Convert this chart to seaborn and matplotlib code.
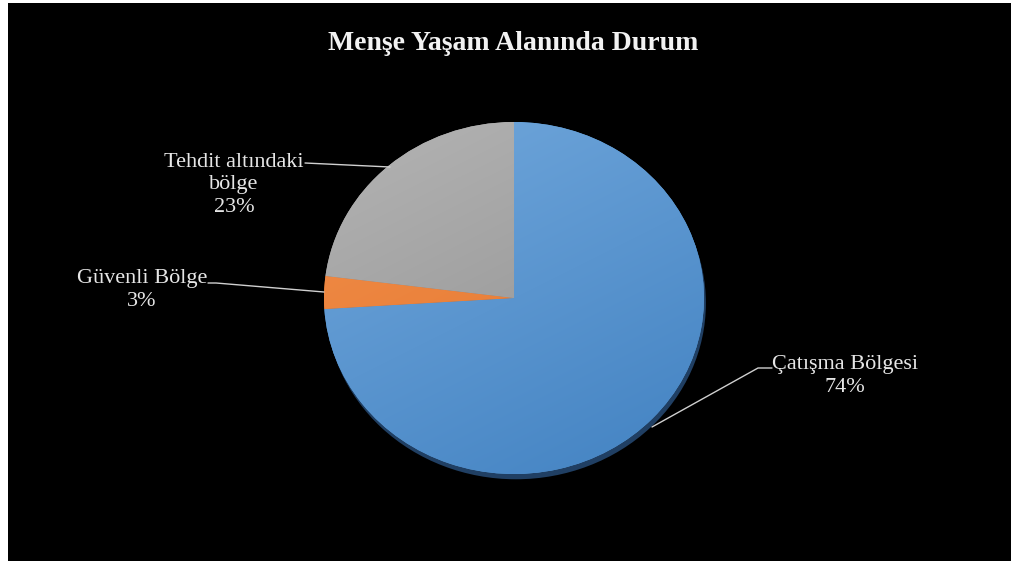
import numpy as np
import matplotlib
matplotlib.use("Agg")
import matplotlib.pyplot as plt
import seaborn as sns
from matplotlib.patches import Rectangle, Ellipse

categories = ["Çatışma Bölgesi", "Güvenli Bölge", "Tehdit altındaki\nbölge"]
values = [74, 3, 23]
pct_labels = ["74%", "3%", "23%"]
title = "Menşe Yaşam Alanında Durum"

sns.set_theme(style="dark")
plt.rcParams['font.family'] = ['Liberation Serif', 'DejaVu Serif']

W, H = 1011, 561
fig = plt.figure(figsize=(W / 100, H / 100), dpi=100, facecolor="white")
# black chart area
fig.patches.append(Rectangle((8 / W, 0), (W - 8) / W, (H - 3) / H,
                             transform=fig.transFigure, facecolor="black",
                             edgecolor="none", zorder=-5))

cx, cy, rx, ry = 514, 298, 190, 176
ax = fig.add_axes([0, 0, 1, 1])
ax.set_zorder(1)
ax.set_facecolor("none")
ax.patch.set_alpha(0)

def px(x, y):
    return ((x - cx) / rx, (cy - y) / ry)

# shadow
ax.add_patch(Ellipse((0.01, -0.03), 2.0, 2.0, facecolor="#203f63", edgecolor="none", zorder=1))

colors = ["#5B9BD5", "#ED7D31", "#A5A5A5"]
wedges, _ = ax.pie(values, colors=colors, startangle=90, counterclock=False,
                   radius=1.0, wedgeprops=dict(linewidth=0, zorder=2))

# gradient fills
grads = [("#72a8dc", "#4282c2"), ("#f28f4b", "#e2732a"), ("#b4b4b4", "#8c8c8c")]
yy, xx = np.mgrid[0:1:200j, 0:1:200j]
for w, (c1, c2) in zip(wedges, grads):
    t = (0.35 * xx + 0.65 * yy)
    t = (t - t.min()) / (t.max() - t.min())
    a = np.array(matplotlib.colors.to_rgb(c1))
    b = np.array(matplotlib.colors.to_rgb(c2))
    img = a[None, None, :] * (1 - t[..., None]) + b[None, None, :] * t[..., None]
    im = ax.imshow(img, extent=(-1, 1, -1, 1), origin="upper", zorder=3,
                   interpolation="bilinear", aspect="auto")
    im.set_clip_path(w)

ax.set_aspect("auto")
ax.set_xlim(-cx / rx, (W - cx) / rx)
ax.set_ylim(-(H - cy) / ry, cy / ry)
ax.axis("off")

txtc = "#E6E6E6"
fs = 16
ls = 1.25
# labels
ax.text(*px(234, 185), categories[2] + "\n" + pct_labels[2], ha="center", va="center",
        color=txtc, fontsize=fs, linespacing=ls, zorder=5)
ax.text(*px(142, 290), categories[1] + "\n" + pct_labels[1], ha="center", va="center",
        color=txtc, fontsize=fs, linespacing=ls, zorder=5)
ax.text(*px(845, 376), categories[0] + "\n" + pct_labels[0], ha="center", va="center",
        color=txtc, fontsize=fs, linespacing=ls, zorder=5)

lc = "#D0D0D0"
for pts in [[(305, 163), (390, 167)],
            [(208, 283), (216, 283), (324, 292)],
            [(772, 368), (758, 368), (652, 427)]]:
    xs, ys = zip(*[px(*p) for p in pts])
    ax.plot(xs, ys, color=lc, lw=1, zorder=4)

fig.text(513 / W, 1 - 43 / H, title, ha="center", va="center", color="#F2F2F2",
         fontsize=20, fontweight="bold", zorder=10)

fig.savefig("out.png", dpi=100, facecolor="white")
